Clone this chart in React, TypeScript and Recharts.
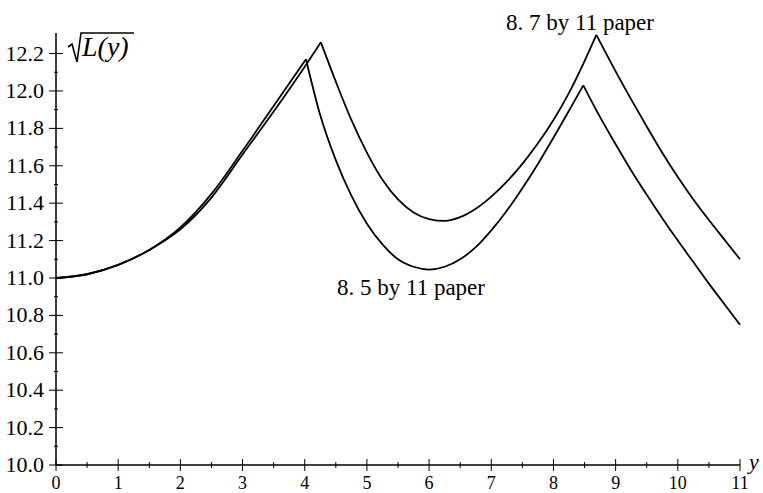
import { LineChart, Line, XAxis, YAxis, Customized } from 'recharts';

// y positions (along the long side) and sqrt(L(y))
const x85 = [0, 0.5, 1, 1.5, 2, 2.5, 3, 3.5, 4.02, 4.25, 4.5, 4.75, 5, 5.25, 5.5, 5.75, 6, 6.25, 6.5, 6.75, 7, 7.25, 7.5, 7.75, 8, 8.25, 8.48, 8.75, 9, 9.25, 9.5, 9.75, 10, 10.25, 10.5, 10.75, 11];
const y85 = [11.0, 11.02, 11.07, 11.15, 11.27, 11.45, 11.68, 11.92, 12.17, 11.87, 11.63, 11.44, 11.29, 11.18, 11.10, 11.06, 11.045, 11.06, 11.10, 11.165, 11.255, 11.36, 11.48, 11.61, 11.75, 11.895, 12.03, 11.86, 11.715, 11.575, 11.445, 11.32, 11.20, 11.085, 10.97, 10.86, 10.75];
const cusps85 = [4.02, 8.48];

const x87 = [0, 0.5, 1, 1.5, 2, 2.5, 3, 3.5, 4, 4.26, 4.5, 4.75, 5, 5.25, 5.5, 5.75, 6, 6.25, 6.5, 6.75, 7, 7.25, 7.5, 7.75, 8, 8.25, 8.5, 8.69, 9, 9.25, 9.5, 9.75, 10, 10.25, 10.5, 10.75, 11];
const y87 = [11.0, 11.02, 11.07, 11.15, 11.26, 11.43, 11.66, 11.89, 12.13, 12.26, 12.05, 11.845, 11.67, 11.525, 11.42, 11.35, 11.315, 11.305, 11.325, 11.37, 11.435, 11.515, 11.61, 11.72, 11.845, 11.99, 12.16, 12.30, 12.105, 11.955, 11.81, 11.67, 11.54, 11.42, 11.31, 11.205, 11.10];
const cusps87 = [4.26, 8.69];

const xMajor = [0, 1, 2, 3, 4, 5, 6, 7, 8, 9, 10, 11];
const xMinor = [0.5, 1.5, 2.5, 3.5, 4.5, 5.5, 6.5, 7.5, 8.5, 9.5, 10.5];
const yMajor = [10.0, 10.2, 10.4, 10.6, 10.8, 11.0, 11.2, 11.4, 11.6, 11.8, 12.0, 12.2];
const yMinor = [10.1, 10.3, 10.5, 10.7, 10.9, 11.1, 11.3, 11.5, 11.7, 11.9, 12.1];

const FONT = '"Liberation Serif", "DejaVu Serif", serif';

// split a curve at its cusps so the smoothing keeps the corners sharp
const pieces = (xs: number[], ys: number[], cusps: number[]) => {
  const pts = xs.map((x, i) => ({ x, v: ys[i] }));
  const cut = [0, ...cusps.map(c => xs.indexOf(c)), xs.length - 1];
  const out: { x: number; v: number }[][] = [];
  for (let i = 0; i < cut.length - 1; i++) out.push(pts.slice(cut[i], cut[i + 1] + 1));
  return out;
};

const segments = [...pieces(x85, y85, cusps85), ...pieces(x87, y87, cusps87)];

const XTick = ({ x, y, payload }: any) => {
  const major = xMajor.includes(payload.value);
  const h = major ? 6 : 3;
  return (
    <g>
      <line x1={x} x2={x} y1={y - h} y2={y + h} stroke="#000" strokeWidth={1} />
      {major && (
        <text x={x} y={y + 24} textAnchor="middle" fill="#000" fontFamily={FONT} style={{ fontFamily: FONT, fontSize: 18 }}>
          {payload.value}
        </text>
      )}
    </g>
  );
};

const YTick = ({ x, y, payload }: any) => {
  const major = yMajor.includes(payload.value);
  const w = major ? 7 : 2;
  return (
    <g>
      <line x1={x - w} x2={x + w} y1={y} y2={y} stroke="#000" strokeWidth={1} />
      {major && (
        <text x={x - 12} y={y + 7} textAnchor="end" fill="#000" fontFamily={FONT} style={{ fontFamily: FONT, fontSize: 22 }}>
          {payload.value.toFixed(1)}
        </text>
      )}
    </g>
  );
};

const Labels = () => (
  <g fill="#000" style={{ fontFamily: FONT }}>
    <path d="M68,47 L72,44 L77,62 L81,33 L134,33" fill="none" stroke="#000" strokeWidth={1.6} />
    <text x={82} y={56} style={{ fontFamily: FONT, fontSize: 28, fontStyle: 'italic' }}>L(y)</text>
    <text x={506} y={30} style={{ fontFamily: FONT, fontSize: 23 }}>8. 7 by 11 paper</text>
    <text x={337} y={295} style={{ fontFamily: FONT, fontSize: 23 }}>8. 5 by 11 paper</text>
    <text x={749} y={469} style={{ fontFamily: FONT, fontSize: 22, fontStyle: 'italic' }}>y</text>
  </g>
);

export default function App() {
  return (
    <div style={{ position: 'absolute', left: 0, top: 0, width: 763, height: 493, background: '#fff', fontFamily: FONT }}>
      <LineChart width={763} height={493} margin={{ top: 33, right: 23, left: 0, bottom: 0 }} style={{ fontFamily: FONT }}>
        <XAxis
          dataKey="x"
          type="number"
          domain={[0, 11]}
          ticks={[...xMajor, ...xMinor]}
          interval={0}
          tick={<XTick />}
          tickLine={false}
          tickSize={0}
          tickMargin={0}
          height={28}
          axisLine={{ stroke: '#000', strokeWidth: 1.5 }}
        />
        <YAxis
          type="number"
          domain={[10, 12.31]}
          ticks={[...yMajor, ...yMinor]}
          interval={0}
          tick={<YTick />}
          tickLine={false}
          tickSize={0}
          tickMargin={0}
          width={56}
          allowDataOverflow
          axisLine={{ stroke: '#000', strokeWidth: 1.5 }}
        />
        {segments.map((seg, i) => (
          <Line
            key={i}
            data={seg}
            dataKey="v"
            type="monotone"
            stroke="#000"
            strokeWidth={1.8}
            dot={false}
            activeDot={false}
            isAnimationActive={false}
          />
        ))}
        <Customized component={Labels} />
      </LineChart>
    </div>
  );
}
